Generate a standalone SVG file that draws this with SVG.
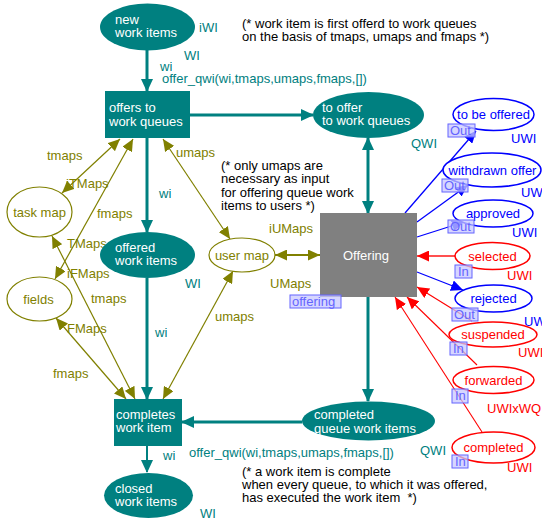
<svg xmlns="http://www.w3.org/2000/svg" width="542" height="523" viewBox="0 0 542 523">
  <style>
    text { font-family: "Liberation Sans", Arial, sans-serif; font-size: 13px; }
    .tealNode { fill: #008080; }
    .inTeal { fill: #ffffff; }
    .tealLbl { fill: #008080; }
    .oliveLbl { fill: #808000; }
    .blueLbl { fill: #0000ff; }
    .redLbl { fill: #ff0000; }
    .note { fill: #000000; }
    .oliveNode { fill: #ffffff; stroke: #808000; stroke-width: 1.2; }
    .blueNode { fill: #ffffff; stroke: #0000ff; stroke-width: 1.5; }
    .redNode { fill: #ffffff; stroke: #ff0000; stroke-width: 1.5; }
    .tag rect { fill: #c8c8ff; fill-opacity: 0.75; stroke: #6464ff; stroke-width: 1; }
    .tag text { fill: #6464ff; }
    .arcTeal { stroke: #008080; stroke-width: 3; fill: none; marker-end: url(#ahTeal); }
    .arcOlive { stroke: #808000; stroke-width: 1.2; fill: none; marker-start: url(#ahOlive); marker-end: url(#ahOlive); }
    .arcBlue { stroke: #0000ff; stroke-width: 1.3; fill: none; marker-end: url(#ahBlue); }
    .arcRed { stroke: #ff0000; stroke-width: 1.1; fill: none; marker-end: url(#ahRed); }
  </style>
  <defs>
    <marker id="ahTeal" viewBox="0 0 13 12" refX="12" refY="6" markerWidth="13" markerHeight="12" markerUnits="userSpaceOnUse" orient="auto-start-reverse">
      <path d="M0,0 L13,6 L0,12 z" fill="#008080"/>
    </marker>
    <marker id="ahOlive" viewBox="0 0 12 11" refX="12" refY="5.5" markerWidth="12" markerHeight="11" markerUnits="userSpaceOnUse" orient="auto-start-reverse">
      <path d="M0,0 L12,5.5 L0,11 z" fill="#808000"/>
    </marker>
    <marker id="ahBlue" viewBox="0 0 12 11" refX="12" refY="5.5" markerWidth="12" markerHeight="11" markerUnits="userSpaceOnUse" orient="auto">
      <path d="M0,0 L12,5.5 L0,11 z" fill="#0000ff"/>
    </marker>
    <marker id="ahRed" viewBox="0 0 12 11" refX="12" refY="5.5" markerWidth="12" markerHeight="11" markerUnits="userSpaceOnUse" orient="auto">
      <path d="M0,0 L12,5.5 L0,11 z" fill="#ff0000"/>
    </marker>
  </defs>

  <rect width="542" height="523" fill="#ffffff"/>

  <!-- arcs -->
  <g id="connectors">
    <path class="arcTeal" d="M147,50 L147,91"/>
    <path class="arcTeal" d="M190,115 L313,115"/>
    <path class="arcTeal" d="M147,138 L147,232"/>
    <path class="arcTeal" d="M147,278 L147,399"/>
    <path class="arcTeal" d="M368,213 L368,138" style="marker-start: url(#ahTeal)"/>
    <path class="arcTeal" d="M368,297 L368,401"/>
    <path class="arcTeal" d="M302,422 L182,422"/>
    <path class="arcTeal" d="M147,446 L147,472" style="stroke-width: 2"/>

    <path class="arcOlive" d="M120,139 L62,193"/>
    <path class="arcOlive" d="M133,139 L55,279"/>
    <path class="arcOlive" d="M52,236 L135,399"/>
    <path class="arcOlive" d="M56,318 L126,399"/>
    <path class="arcOlive" d="M163,139 L230,239"/>
    <path class="arcOlive" d="M163,399 L233,271"/>
    <path class="arcOlive" d="M275,255 L320,255" style="stroke-width: 2"/>

    <path class="arcBlue" d="M405,213 L476,131"/>
    <path class="arcBlue" d="M417,222 L468,185"/>
    <path class="arcBlue" d="M417,237 L464,222"/>
    <path class="arcBlue" d="M417,272 L463,290"/>

    <path class="arcRed" d="M455,256 L417,256" style="stroke: #ff5050; stroke-width: 2"/>
    <path class="arcRed" d="M472,321 L417,287"/>
    <path class="arcRed" d="M477,365 L407,297"/>
    <path class="arcRed" d="M482,432 L395,297"/>
  </g>

  <!-- arc inscriptions and place colour sets -->
  <g id="labels">
    <text class="tealLbl" x="199" y="31.5">iWI</text>
    <text class="tealLbl" x="184" y="60">WI</text>
    <text class="tealLbl" x="160" y="71">wi</text>
    <text class="tealLbl" x="162" y="82.5">offer_qwi(wi,tmaps,umaps,fmaps,[])</text>
    <text class="tealLbl" x="411" y="148">QWI</text>
    <text class="tealLbl" x="159" y="198">wi</text>
    <text class="tealLbl" x="185" y="288">WI</text>
    <text class="tealLbl" x="155" y="337">wi</text>
    <text class="tealLbl" x="163" y="460">wi</text>
    <text class="tealLbl" x="189" y="457">offer_qwi(wi,tmaps,umaps,fmaps,[])</text>
    <text class="tealLbl" x="420" y="455">QWI</text>
    <text class="tealLbl" x="200" y="518">WI</text>

    <text class="oliveLbl" x="47" y="160">tmaps</text>
    <text class="oliveLbl" x="66" y="188">iTMaps</text>
    <text class="oliveLbl" x="97" y="218">fmaps</text>
    <text class="oliveLbl" x="67" y="248">TMaps</text>
    <text class="oliveLbl" x="67" y="278">iFMaps</text>
    <text class="oliveLbl" x="91" y="303">tmaps</text>
    <text class="oliveLbl" x="67" y="333">FMaps</text>
    <text class="oliveLbl" x="53" y="378">fmaps</text>
    <text class="oliveLbl" x="176" y="157">umaps</text>
    <text class="oliveLbl" x="215" y="321">umaps</text>
    <text class="oliveLbl" x="269" y="233">iUMaps</text>
    <text class="oliveLbl" x="270" y="288">UMaps</text>

    <text class="blueLbl" x="511" y="143">UWI</text>
    <text class="blueLbl" x="521" y="197">UWI</text>
    <text class="blueLbl" x="512" y="237">UWI</text>
    <text class="redLbl" x="507" y="280">UWI</text>
    <text class="blueLbl" x="524" y="326">UWI</text>
    <text class="redLbl" x="518" y="357">UWI</text>
    <text class="redLbl" x="487" y="413">UWIxWQ</text>
    <text class="redLbl" x="507" y="472">UWI</text>
  </g>

  <!-- comments -->
  <g id="notes">
    <text class="note" x="242" y="27.5">(* work item is first offerd to work queues</text>
    <text class="note" x="242" y="41">on the basis of tmaps, umaps and fmaps *)</text>
    <text class="note" x="221" y="169.5">(* only umaps are</text>
    <text class="note" x="221" y="183">necessary as input</text>
    <text class="note" x="221" y="196.5">for offering queue work</text>
    <text class="note" x="221" y="210">items to users *)</text>
    <text class="note" x="242" y="476">(* a work item is complete</text>
    <text class="note" x="242" y="489">when every queue, to which it was offered,</text>
    <text class="note" x="242" y="502" xml:space="preserve">has executed the work item  *)</text>
  </g>

  <!-- places -->
  <g id="new-work-items">
    <ellipse class="tealNode" cx="147.5" cy="27" rx="47.5" ry="23.5"/>
    <text class="inTeal" x="115" y="24">new</text>
    <text class="inTeal" x="115" y="37">work items</text>
  </g>
  <g id="to-offer">
    <ellipse class="tealNode" cx="368.5" cy="115" rx="55.5" ry="23"/>
    <text class="inTeal" x="322" y="111.5">to offer</text>
    <text class="inTeal" x="322" y="125">to work queues</text>
  </g>
  <g id="offered-work-items">
    <ellipse class="tealNode" cx="147.5" cy="255" rx="47.5" ry="23"/>
    <text class="inTeal" x="115" y="252">offered</text>
    <text class="inTeal" x="115" y="265">work items</text>
  </g>
  <g id="completed-queue-work-items">
    <ellipse class="tealNode" cx="368.5" cy="421" rx="66.5" ry="19.5"/>
    <text class="inTeal" x="314" y="419">completed</text>
    <text class="inTeal" x="314" y="432.5">queue work items</text>
  </g>
  <g id="closed-work-items">
    <ellipse class="tealNode" cx="148.5" cy="495.5" rx="44.5" ry="22.5"/>
    <text class="inTeal" x="115" y="492.5">closed</text>
    <text class="inTeal" x="115" y="505.5">work items</text>
  </g>
  <g id="task-map">
    <ellipse class="oliveNode" cx="39.5" cy="212" rx="32.5" ry="25"/>
    <text class="oliveLbl" x="39.5" y="216.5" text-anchor="middle">task map</text>
  </g>
  <g id="fields">
    <ellipse class="oliveNode" cx="39.5" cy="299" rx="32.5" ry="22"/>
    <text class="oliveLbl" x="38.5" y="303.5" text-anchor="middle">fields</text>
  </g>
  <g id="user-map">
    <ellipse class="oliveNode" cx="242" cy="255" rx="33" ry="17"/>
    <text class="oliveLbl" x="242" y="259.5" text-anchor="middle">user map</text>
  </g>

  <!-- transitions -->
  <g id="offers-to-work-queues">
    <rect class="tealNode" x="105" y="91" width="85" height="47"/>
    <text class="inTeal" x="109" y="112">offers to</text>
    <text class="inTeal" x="109" y="125.5">work queues</text>
  </g>
  <g id="completes-work-item">
    <rect class="tealNode" x="114" y="399" width="68" height="47"/>
    <text class="inTeal" x="116" y="418.5">completes</text>
    <text class="inTeal" x="116" y="432">work item</text>
  </g>
  <g id="offering">
    <rect x="320" y="213" width="97" height="84" fill="#808080"/>
    <text class="inTeal" x="366" y="259.5" text-anchor="middle">Offering</text>
    <g class="tag">
      <rect x="290" y="295" width="51" height="13"/>
      <text x="292" y="306">offering</text>
    </g>
  </g>

  <!-- port places -->
  <g id="to-be-offered">
    <ellipse class="blueNode" cx="493.5" cy="114.5" rx="40.5" ry="16"/>
    <text class="blueLbl" x="493.5" y="119" text-anchor="middle">to be offered</text>
    <g class="tag"><rect x="448" y="124" width="27" height="13"/><text x="450" y="135">Out</text></g>
  </g>
  <g id="withdrawn-offer">
    <ellipse class="blueNode" cx="492" cy="170" rx="49" ry="17"/>
    <text class="blueLbl" x="492.5" y="174.5" text-anchor="middle">withdrawn offer</text>
    <g class="tag"><rect x="442" y="179" width="26" height="13"/><text x="444" y="190">Out</text></g>
  </g>
  <g id="approved">
    <ellipse class="blueNode" cx="493" cy="213.5" rx="40" ry="13.5"/>
    <text class="blueLbl" x="493" y="218" text-anchor="middle">approved</text>
    <g class="tag"><rect x="448" y="220" width="26" height="13"/><text x="450" y="231">Out</text></g>
  </g>
  <g id="selected">
    <ellipse class="redNode" cx="492.5" cy="256" rx="37.5" ry="13.5"/>
    <text class="redLbl" x="492.5" y="260.5" text-anchor="middle">selected</text>
    <g class="tag"><rect x="455" y="265" width="17" height="13"/><text x="458" y="276">In</text></g>
  </g>
  <g id="rejected">
    <ellipse class="blueNode" cx="493.5" cy="298.5" rx="38.5" ry="13.5"/>
    <text class="blueLbl" x="493.5" y="303" text-anchor="middle">rejected</text>
    <g class="tag"><rect x="452" y="308" width="26" height="13"/><text x="454" y="319">Out</text></g>
  </g>
  <g id="suspended">
    <ellipse class="redNode" cx="493" cy="334.5" rx="44" ry="12.5"/>
    <text class="redLbl" x="493" y="339" text-anchor="middle">suspended</text>
    <g class="tag"><rect x="450" y="342" width="17" height="13"/><text x="453" y="353">In</text></g>
  </g>
  <g id="forwarded">
    <ellipse class="redNode" cx="493.5" cy="380" rx="40.5" ry="13.5"/>
    <text class="redLbl" x="493.5" y="384.5" text-anchor="middle">forwarded</text>
    <g class="tag"><rect x="452" y="389" width="16" height="14"/><text x="455" y="400">In</text></g>
  </g>
  <g id="completed">
    <ellipse class="redNode" cx="493.5" cy="447.5" rx="41.5" ry="15.5"/>
    <text class="redLbl" x="493.5" y="452" text-anchor="middle">completed</text>
    <g class="tag"><rect x="452" y="455" width="16" height="13"/><text x="455" y="466">In</text></g>
  </g>
</svg>
